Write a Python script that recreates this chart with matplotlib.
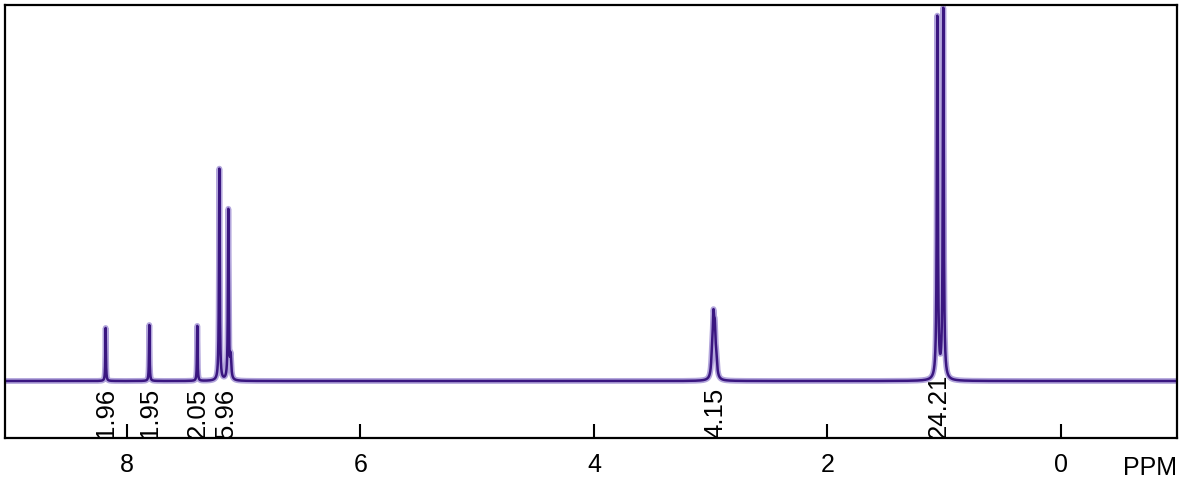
import matplotlib
matplotlib.use('Agg')
import matplotlib.pyplot as plt
import numpy as np

plt.rcParams['font.family'] = ['Liberation Sans', 'DejaVu Sans']

# 峰位置 (ppm) 和峰高 (基线以上, 像素级单位)
peak_ppm = [8.183, 7.809, 7.398, 7.209, 7.132, 7.112,
            2.990, 2.977, 2.965, 2.952,
            1.059, 1.008]
peak_height = [53, 56, 55, 212, 170, 22,
               14, 54, 40, 14,
               362, 370]
peak_hwhm = [0.003, 0.003, 0.003, 0.004, 0.004, 0.006,
             0.008, 0.008, 0.008, 0.008,
             0.005, 0.005]

# 积分值标注
integral_ppm = [8.18, 7.80, 7.39, 7.15, 2.96, 1.05]
integral_text = ['1.96', '1.95', '2.05', '5.96', '4.15', '24.21']

xticks = [8, 6, 4, 2, 0]

# 谱图 (洛伦兹线型叠加)
ppm = np.linspace(9.1, -1.1, 40000)
spec = np.zeros_like(ppm)
for p, h, w in zip(peak_ppm, peak_height, peak_hwhm):
    spec += h / (1 + ((ppm - p) / w) ** 2)

fig = plt.figure(figsize=(11.81, 4.94), dpi=100)
ax = fig.add_axes([5 / 1181, 56 / 494, 1172 / 1181, 433 / 494])

ax.plot(ppm, spec, color='#b3a6dc', linewidth=4.2, solid_joinstyle='round')
ax.plot(ppm, spec, color='#3a1680', linewidth=1.8, solid_joinstyle='round')

ax.set_xlim(9.045, -0.994)
ax.set_ylim(-57, 376)

for p, t in zip(integral_ppm, integral_text):
    ax.text(p, -57, t, rotation=90, ha='center', va='bottom',
            fontsize=18.5, color='black')

ax.set_xticks(xticks)
ax.set_xticklabels([str(v) for v in xticks])
ax.set_yticks([])
ax.tick_params(axis='x', direction='in', length=10, width=1.5,
               labelsize=18, pad=11)
for s in ax.spines.values():
    s.set_linewidth(1.6)

ax.text(1.0, -0.042, 'PPM', transform=ax.transAxes, ha='right', va='top',
        fontsize=18)

fig.savefig('out.png', dpi=100, facecolor='white')
